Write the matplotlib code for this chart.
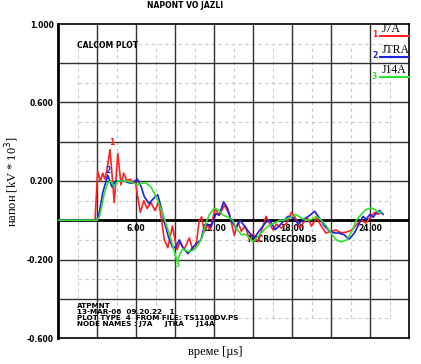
import matplotlib
matplotlib.use("Agg")
import matplotlib.pyplot as plt

# J7A (red)
t_j7a = [0, 2.85, 3.05, 3.26, 3.44, 3.6, 3.75, 4.0, 4.33, 4.6, 4.85, 5.05, 5.3, 5.56, 5.74,
         5.95, 6.13, 6.33, 6.6, 6.85, 7.15, 7.46, 7.74, 7.97, 8.18, 8.45, 8.8, 9.15, 9.4,
         9.7, 10.1, 10.36, 10.6, 10.87, 11.05, 11.26, 11.5, 11.7, 12.08, 12.4, 12.8, 13.2,
         13.56, 13.85, 14.1, 14.4, 14.74, 15.0, 15.4, 15.77, 16.0, 16.3, 16.55, 16.8, 17.2,
         17.6, 17.95, 18.2, 18.6, 18.85, 19.2, 19.5, 19.9, 20.25, 20.6, 21.0, 21.4, 21.8,
         22.2, 22.6, 23.0, 23.3, 23.7, 24.1, 24.35, 24.6, 24.87]
v_j7a = [0, 0, 0.25, 0.2, 0.24, 0.21, 0.25, 0.36, 0.09, 0.34, 0.18, 0.24, 0.2, 0.21, 0.19,
         0.2, 0.12, 0.04, 0.1, 0.06, 0.09, 0.05, 0.094, 0.0, -0.1, -0.14, -0.03, -0.15, -0.11,
         -0.15, -0.09, -0.15, -0.14, 0.0, 0.017, -0.06, -0.02, -0.05, 0.06, 0.026, 0.077, 0.026,
         -0.077, -0.01, -0.056, -0.03, -0.1, -0.07, -0.11, -0.03, 0.02, -0.02, -0.05, -0.02, -0.04,
         -0.014, 0.04, 0.02, -0.04, -0.015, 0.01, -0.03, 0.012, -0.03, -0.065, -0.056, -0.05, -0.065,
         -0.06, -0.05, -0.02, 0.0, -0.014, 0.02, 0.04, 0.03, 0.04]

# JTRA (blue)
t_jtra = [0, 3.0, 3.18, 3.44, 3.7, 3.82, 4.15, 4.46, 4.85, 5.1, 5.5, 5.74, 6.1, 6.4, 6.64,
          7.0, 7.33, 7.67, 7.92, 8.18, 8.5, 8.82, 9.07, 9.33, 9.6, 10.0, 10.36, 10.62, 11.0,
          11.26, 11.5, 11.77, 12.15, 12.4, 12.74, 13.05, 13.3, 13.7, 14.0, 14.35, 14.74, 15.1,
          15.36, 15.64, 16.0, 16.3, 16.7, 17.0, 17.4, 17.7, 18.1, 18.5, 18.9, 19.36, 19.74, 20.1,
          20.5, 20.9, 21.3, 21.6, 22.0, 22.4, 22.8, 23.2, 23.45, 23.7, 24.0, 24.25, 24.5, 24.74, 25.0]
v_jtra = [0, 0, 0.04, 0.14, 0.2, 0.23, 0.17, 0.2, 0.2, 0.2, 0.19, 0.19, 0.21, 0.17, 0.12,
          0.085, 0.11, 0.13, 0.07, -0.01, -0.085, -0.14, -0.135, -0.1, -0.14, -0.17, -0.14, -0.12, -0.1,
          -0.026, -0.02, -0.034, 0.034, 0.026, 0.094, 0.06, 0.0, -0.04, 0.0, -0.03, -0.065, -0.09,
          -0.065, -0.04, -0.01, 0.0, -0.048, -0.03, 0.0, 0.02, 0.012, -0.02, 0.005, 0.024, 0.046, 0.012,
          -0.03, -0.056, -0.065, -0.065, -0.074, -0.096, -0.065, -0.014, 0.02, 0.005, 0.03, 0.015, 0.04, 0.05, 0.03]

# J14A (green)
t_j14a = [0, 3.0, 3.18, 3.36, 3.56, 3.82, 4.08, 4.33, 4.6, 5.1, 5.6, 6.13, 6.5, 6.77, 7.15,
          7.54, 7.92, 8.3, 8.7, 9.0, 9.15, 9.33, 9.6, 10.0, 10.36, 10.75, 11.1, 11.36, 11.62,
          12.0, 12.3, 12.7, 13.05, 13.4, 13.75, 14.1, 14.35, 14.74, 15.0, 15.4, 15.77, 16.15,
          16.67, 17.05, 17.4, 17.95, 18.3, 18.7, 19.1, 19.5, 19.87, 20.25, 20.65, 21.0, 21.4,
          21.8, 22.2, 22.6, 22.95, 23.33, 23.7, 24.1, 24.35, 24.6, 24.87]
v_j14a = [0, 0, 0.017, 0.07, 0.137, 0.19, 0.2, 0.17, 0.2, 0.2, 0.195, 0.18, 0.19, 0.19, 0.17,
          0.12, 0.06, -0.017, -0.1, -0.17, -0.21, -0.18, -0.145, -0.16, -0.154, -0.13, -0.085, -0.017, 0.026,
          0.06, 0.055, 0.026, 0.017, 0.004, -0.043, -0.074, -0.07, -0.09, -0.11, -0.08, -0.056, -0.03,
          -0.014, 0.0, 0.0, 0.017, 0.03, 0.012, 0.0, 0.004, 0.02, 0.0, -0.03, -0.065, -0.1,
          -0.11, -0.1, -0.056, 0.0, 0.03, 0.055, 0.063, 0.055, 0.043, 0.038]

names = ["J7A", "JTRA", "J14A"]
colors = ["#ff2020", "#2020e0", "#30e030"]
yticks = [1.0, 0.6, 0.2, -0.2, -0.6]
xlabels_in = [6, 12, 18, 24]

plt.rcParams['font.family'] = 'DejaVu Sans'
fig = plt.figure(figsize=(4.21, 3.64), dpi=100)
ax = fig.add_axes([58/421, 1-338/364, 351/421, 314/364])
ax.set_xlim(0, 27)
ax.set_ylim(-0.6, 1.0)

# minor dashed grid
for xv in [1.5 + 3*i for i in range(9)]:
    ax.plot([xv, xv], [-0.5, 0.9], color='#c8c8c8', lw=0.8, ls=(0, (3, 3)), zorder=1)
for yv in [0.9 - 0.2*i for i in range(8)]:
    ax.plot([1.5, 25.5], [yv, yv], color='#c8c8c8', lw=0.8, ls=(0, (3, 3)), zorder=1)
# major grid
for xv in range(3, 27, 3):
    ax.axvline(xv, color='#303030', lw=1.0, zorder=2)
for i in range(1, 8):
    ax.axhline(-0.6 + 0.2*i, color='#303030', lw=1.0, zorder=2)
ax.axhline(0, color='black', lw=2.0, zorder=2)

for s in ax.spines.values():
    s.set_linewidth(1.2)
ax.spines['left'].set_linewidth(2.0)

ax.set_xticks([])
ax.set_yticks(yticks)
ax.set_yticklabels([f"{y:.3f}" for y in yticks], fontsize=5.5, fontweight='bold')
ax.tick_params(axis='y', length=0, pad=3)

series = [(t_j7a, v_j7a), (t_jtra, v_jtra), (t_j14a, v_j14a)]
for (t, v), c in zip(series, colors):
    ax.plot(t, v, color=c, lw=1.2, zorder=4)

ax.text(4.15, 0.395, "1", color=colors[0], fontsize=5.5, fontweight='bold', ha='center', va='center', zorder=5)
ax.text(3.85, 0.255, "2", color=colors[1], fontsize=5.5, fontweight='bold', ha='center', va='center', zorder=5)
ax.text(9.2, -0.225, "3", color=colors[2], fontsize=5.5, fontweight='bold', ha='center', va='center', zorder=5)

for xv in xlabels_in:
    ax.text(xv, -0.02, f"{xv:.2f}", fontsize=5.5, fontweight='bold', ha='center', va='top', zorder=3)
ax.text(17.2, -0.1, "MICROSECONDS", fontsize=5.5, fontweight='bold', ha='center', va='center', zorder=3)

ax.text(1.45, 0.89, "CALCOM PLOT", fontsize=5.5, fontweight='bold', ha='left', va='center')

info = ("ATPMNT\n13-MAR-06  09.20.22   1\nPLOT TYPE  4  FROM FILE: TS1100DV.PS\n"
        "NODE NAMES : J7A     JTRA     J14A")
ax.text(1.45, -0.42, info, fontsize=5.2, fontweight='bold', ha='left', va='top', linespacing=1.05)

# legend
for i, (n, c) in enumerate(zip(names, colors)):
    yl = 0.955 - 0.105*i
    ax.text(24.9, yl + 0.02, n, fontsize=8.5, family='Liberation Serif', ha='left', va='center')
    ax.plot([24.75, 27.0], [yl - 0.017, yl - 0.017], color=c, lw=1.5, clip_on=False, zorder=5)
    ax.text(24.35, yl - 0.01, str(i + 1), color=c, fontsize=5.5, fontweight='bold', ha='center', va='center')

fig.text(185/421, 1 - 5/364, "NAPONT VO JAZLI", fontsize=5.5, fontweight='bold', ha='center', va='center')
fig.text(12/421, 0.5, "напон [kV * 10$^3$]", rotation=90, fontsize=9, family='Liberation Serif',
         ha='center', va='center')
fig.text(215/421, 1 - 352/364, "време [µs]", fontsize=9, family='Liberation Serif', ha='center', va='center')

fig.savefig("out.png", dpi=100)
